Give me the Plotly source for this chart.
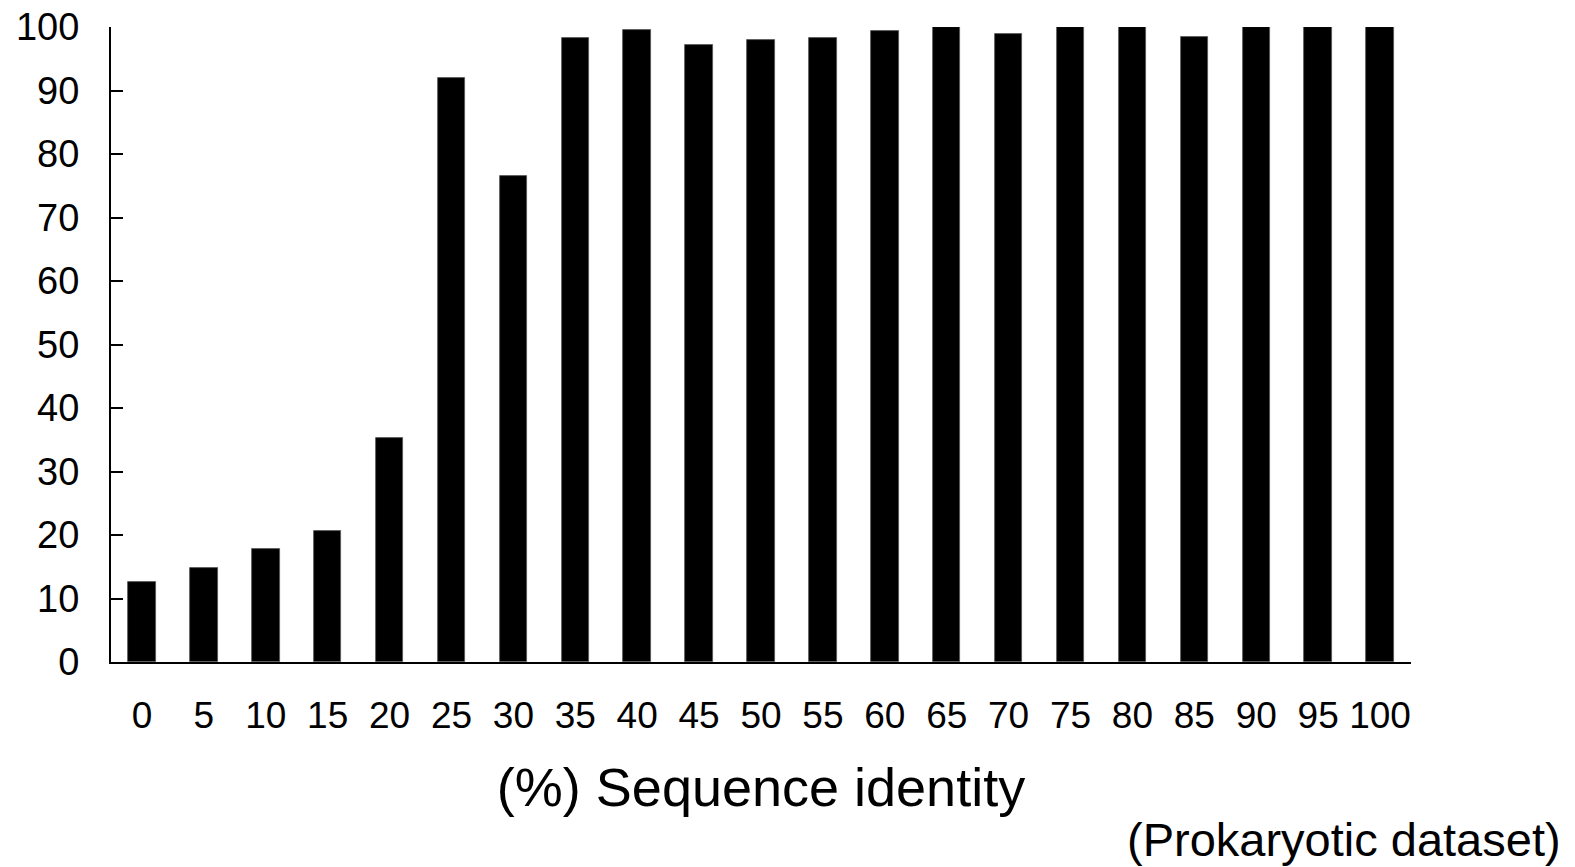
import plotly.graph_objects as go

categories = ["0", "5", "10", "15", "20", "25", "30", "35", "40", "45", "50",
              "55", "60", "65", "70", "75", "80", "85", "90", "95", "100"]
values = [12.6, 14.8, 17.8, 20.6, 35.2, 91.9, 76.5, 98.2, 99.6, 97.1, 97.9,
          98.2, 99.3, 100, 98.9, 100, 100, 98.5, 100, 100, 100]
y_ticks = [0, 10, 20, 30, 40, 50, 60, 70, 80, 90, 100]
x_title = "(%) Sequence identity"
note = "(Prokaryotic dataset)"

FONT = "Liberation Sans, Arial, sans-serif"

fig = go.Figure(
    go.Bar(
        x=categories,
        y=values,
        width=0.444,
        marker=dict(color="black", line=dict(color="#555555", width=0.8)),
    )
)

fig.update_layout(
    width=1575,
    height=867,
    margin=dict(l=111, r=164, t=27, b=205),
    paper_bgcolor="white",
    plot_bgcolor="white",
    font=dict(family=FONT, color="black", size=37),
    showlegend=False,
    bargap=0,
)

fig.update_xaxes(
    type="category",
    range=[-0.5, 20.5],
    automargin=False,
    showline=True,
    linecolor="black",
    linewidth=2,
    ticks="",
    showgrid=False,
    zeroline=False,
    tickfont=dict(size=37, family=FONT, color="black"),
    ticklabelstandoff=20,
    title=dict(text=x_title, font=dict(size=54, family=FONT, color="black"), standoff=33),
)

fig.update_yaxes(
    range=[0, 100],
    automargin=False,
    tickvals=y_ticks,
    showline=True,
    linecolor="black",
    linewidth=2,
    ticks="inside",
    ticklen=12,
    tickwidth=2,
    tickcolor="black",
    showgrid=False,
    zeroline=False,
    tickfont=dict(size=38, family=FONT, color="black"),
    ticklabelstandoff=22,
)

fig.add_annotation(
    text=note,
    xref="paper", yref="paper",
    x=(1563 - 111) / 1300, y=(662 - 839) / 635,
    xanchor="right", yanchor="middle",
    showarrow=False,
    font=dict(size=47, family=FONT, color="black"),
)

fig.write_html("out.html")
